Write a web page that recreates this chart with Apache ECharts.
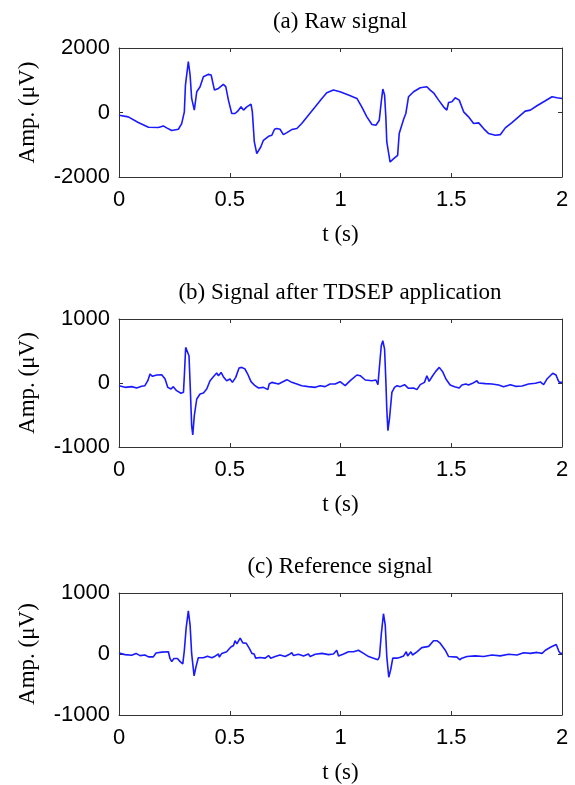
<!DOCTYPE html>
<html>
<head>
<meta charset="utf-8">
<script src="https://cdn.jsdelivr.net/npm/echarts@6/dist/echarts.min.js"></script>
<style>html,body{margin:0;padding:0;background:#fff}#c{width:575px;height:785px}</style>
</head>
<body>
<div id="c"></div>
<script>
// Panel titles and axis texts
const titles = ['(a) Raw signal', '(b) Signal after TDSEP application', '(c) Reference signal'];
const xTicks = [0, 0.5, 1, 1.5, 2];
const yRangeA = [-2000, 0, 2000];
const yRangeBC = [-1000, 0, 1000];

// (a) Raw signal
const tA = [0,0.042,0.087,0.133,0.178,0.2,0.215,0.238,0.268,0.283,0.295,0.3,0.313,0.321,0.328,0.34,0.351,0.366,0.381,0.404,0.416,0.431,0.449,0.471,0.482,0.494,0.509,0.524,0.536,0.551,0.562,0.577,0.596,0.602,0.611,0.622,0.63,0.64,0.652,0.675,0.69,0.702,0.712,0.727,0.742,0.758,0.78,0.803,0.825,0.855,0.886,0.916,0.938,0.968,0.998,1.036,1.074,1.096,1.119,1.142,1.16,1.175,1.184,1.191,1.199,1.205,1.209,1.224,1.24,1.258,1.265,1.285,1.295,1.307,1.33,1.36,1.39,1.405,1.42,1.443,1.465,1.48,1.488,1.503,1.518,1.536,1.556,1.578,1.601,1.624,1.646,1.669,1.699,1.722,1.744,1.774,1.804,1.834,1.857,1.887,1.925,1.955,1.977,2.0];
const vA = [-83,-135,-311,-457,-467,-415,-477,-560,-519,-343,21,850,1578,1163,436,73,644,800,1111,1183,1163,695,747,872,800,384,-31,-31,42,176,73,176,260,21,-913,-1277,-1308,-1069,-862,-737,-706,-519,-498,-519,-685,-623,-529,-498,-343,-83,176,436,612,695,644,540,436,176,-135,-374,-394,-239,332,727,540,-187,-913,-1536,-1432,-1329,-654,-208,-31,488,644,768,800,695,612,384,176,73,311,332,457,384,21,-135,-343,-322,-498,-654,-706,-685,-477,-311,-135,42,73,208,363,488,457,436];

// (b) Signal after TDSEP application
const tB = [0,0.027,0.057,0.08,0.102,0.117,0.13,0.14,0.151,0.17,0.193,0.208,0.22,0.235,0.245,0.26,0.28,0.291,0.295,0.301,0.31,0.316,0.322,0.328,0.333,0.34,0.351,0.366,0.381,0.396,0.411,0.426,0.441,0.449,0.461,0.471,0.486,0.501,0.512,0.527,0.542,0.554,0.569,0.581,0.596,0.614,0.63,0.652,0.672,0.678,0.69,0.72,0.758,0.78,0.803,0.825,0.855,0.886,0.908,0.93,0.953,0.976,0.998,1.021,1.044,1.074,1.089,1.112,1.142,1.16,1.169,1.175,1.184,1.191,1.199,1.205,1.209,1.214,1.221,1.232,1.244,1.255,1.27,1.289,1.307,1.33,1.345,1.36,1.379,1.39,1.4,1.416,1.43,1.446,1.461,1.476,1.495,1.515,1.536,1.548,1.566,1.578,1.596,1.616,1.623,1.654,1.684,1.714,1.736,1.767,1.79,1.82,1.849,1.88,1.902,1.917,1.932,1.947,1.958,1.973,1.982,1.988,2.0];
const vB = [-42,-68,-57,-78,-52,-42,36,140,104,125,130,62,-68,-94,-57,-120,-161,-146,114,556,567,426,-94,-666,-811,-510,-250,-172,-156,-94,36,99,156,114,166,99,36,62,10,88,234,244,218,140,21,-42,-78,-68,-104,-16,10,-16,52,10,-16,-42,-57,-68,-42,-57,-16,-16,21,-42,36,125,114,47,36,47,-26,218,582,660,530,10,-406,-744,-562,-146,-68,-42,-57,-26,-83,-78,-104,-26,10,114,26,114,182,244,177,62,-31,-57,-78,-31,-16,-31,-5,36,0,-10,-16,-31,-57,-26,-52,-47,-16,-5,16,-26,62,114,151,125,47,10,10];

// (c) Reference signal
const tC = [0,0.027,0.057,0.077,0.095,0.117,0.133,0.155,0.167,0.193,0.223,0.23,0.238,0.248,0.264,0.276,0.288,0.295,0.303,0.313,0.321,0.328,0.339,0.348,0.358,0.366,0.381,0.399,0.419,0.434,0.449,0.453,0.464,0.486,0.505,0.517,0.524,0.532,0.547,0.559,0.574,0.589,0.6,0.61,0.617,0.637,0.66,0.675,0.685,0.705,0.727,0.75,0.77,0.78,0.788,0.81,0.833,0.855,0.863,0.886,0.916,0.946,0.968,0.983,0.991,1.014,1.036,1.059,1.081,1.104,1.127,1.149,1.169,1.176,1.184,1.194,1.202,1.209,1.218,1.227,1.236,1.255,1.27,1.285,1.297,1.303,1.318,1.325,1.345,1.367,1.398,1.42,1.435,1.45,1.473,1.488,1.526,1.538,1.548,1.571,1.608,1.646,1.684,1.721,1.759,1.797,1.827,1.857,1.887,1.91,1.925,1.95,1.974,1.985,1.992,2.0];
const vC = [16,-10,-21,10,-26,-16,-47,-47,16,31,36,-73,-125,-73,-73,-125,-161,57,421,707,473,5,-359,-203,-62,-88,-62,-36,-62,-36,0,-52,10,36,114,140,218,166,260,182,177,88,10,0,-68,-57,-68,-26,-68,-42,-16,-42,-5,21,-26,-5,-31,0,-42,-5,10,-10,0,62,-31,0,36,36,62,10,-42,-68,-94,-42,317,660,473,-42,-380,-250,-68,-68,-52,-31,36,-31,36,-16,36,104,125,218,218,177,62,-42,-52,-94,-68,-42,-31,-42,-16,-31,-5,-16,21,10,26,10,62,114,156,52,10,10];

const pair = (t, v) => t.map((x, i) => [x, v[i]]);

const serif = 'Liberation Serif, Times New Roman, serif';
const sans = 'Liberation Sans, Arial, sans-serif';
const axisCol = '#333';
const lineCol = '#1a1aff';

const grids = [
  {left: 119, right: 13, top: 48, height: 129},
  {left: 119, right: 13, top: 319, height: 128},
  {left: 119, right: 13, top: 593, height: 129}
];
const titleTops = [10, 281, 555];
const yr = [yRangeA, yRangeBC, yRangeBC];
const datas = [pair(tA, vA), pair(tB, vB), pair(tC, vC)];
const plain = v => String(v);

const xAxis = [], yAxis = [], series = [];
grids.forEach((g, i) => {
  xAxis.push({
    type: 'value', gridIndex: i, position: 'bottom',
    min: xTicks[0], max: xTicks[xTicks.length - 1], interval: 0.5,
    name: 't (s)', nameLocation: 'middle', nameGap: 46,
    nameTextStyle: {fontFamily: serif, fontSize: 23, color: '#000'},
    axisLine: {show: true, onZero: false, lineStyle: {color: axisCol, width: 1}},
    axisTick: {show: true, inside: true, length: 4, lineStyle: {color: axisCol}},
    axisLabel: {fontFamily: sans, fontSize: 22, color: '#000', margin: 12, formatter: plain},
    splitLine: {show: false}
  });
  xAxis.push({
    type: 'value', gridIndex: i, position: 'top',
    min: xTicks[0], max: xTicks[xTicks.length - 1], interval: 0.5,
    axisLine: {show: true, onZero: false, lineStyle: {color: axisCol, width: 1}},
    axisTick: {show: true, inside: true, length: 4, lineStyle: {color: axisCol}},
    axisLabel: {show: false}, splitLine: {show: false}
  });
  yAxis.push({
    type: 'value', gridIndex: i, position: 'left',
    min: yr[i][0], max: yr[i][2], interval: yr[i][2],
    name: 'Amp. (\u03bcV)', nameLocation: 'middle', nameGap: 80, nameRotate: 90,
    nameTextStyle: {fontFamily: serif, fontSize: 23, color: '#000'},
    axisLine: {show: true, onZero: false, lineStyle: {color: axisCol, width: 1}},
    axisTick: {show: true, inside: true, length: 4, lineStyle: {color: axisCol}},
    axisLabel: {fontFamily: sans, fontSize: 22, color: '#000', margin: 9, formatter: plain},
    splitLine: {show: false}
  });
  yAxis.push({
    type: 'value', gridIndex: i, position: 'right',
    min: yr[i][0], max: yr[i][2], interval: yr[i][2],
    axisLine: {show: true, onZero: false, lineStyle: {color: axisCol, width: 1}},
    axisTick: {show: true, inside: true, length: 4, lineStyle: {color: axisCol}},
    axisLabel: {show: false}, splitLine: {show: false}
  });
  series.push({
    type: 'line', xAxisIndex: 2 * i, yAxisIndex: 2 * i, data: datas[i],
    showSymbol: false, symbol: 'none', smooth: false,
    lineStyle: {color: lineCol, width: 1.6}, animation: false
  });
});

const chart = echarts.init(document.getElementById('c'), null, {renderer: 'canvas'});
chart.setOption({
  backgroundColor: '#fff',
  animation: false,
  title: titles.map((t, i) => ({
    text: t, left: 340, top: titleTops[i], textAlign: 'center', padding: 0,
    textStyle: {fontFamily: serif, fontSize: 23, fontWeight: 'normal', color: '#000'}
  })),
  grid: grids,
  xAxis: xAxis,
  yAxis: yAxis,
  series: series
});
</script>
</body>
</html>
